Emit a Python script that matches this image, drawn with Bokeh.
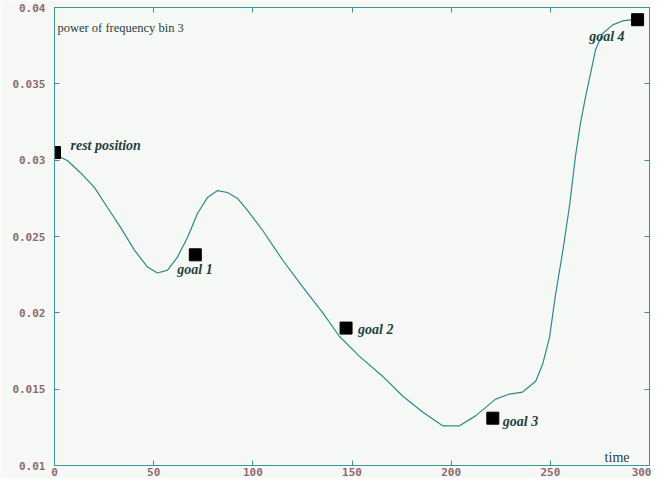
from bokeh.plotting import figure
from bokeh.models import Range1d, LinearAxis, FixedTicker, Label
from bokeh.embed import file_html
from bokeh.resources import INLINE

# ---- data -----------------------------------------------------------
curve_t = [0, 6.6, 13.1, 20.2, 26.7, 33.3, 40.3, 46.9, 51.9, 57.0, 62.0, 67.1,
           72.1, 77.1, 82.2, 87.2, 92.3, 97.3, 104.9, 115.0, 125.1, 135.2,
           143.7, 153.8, 165.4, 175.5, 185.6, 195.7, 204.2, 212.3, 222.4,
           229.4, 236.0, 242.6, 246.1, 249.6, 252.6, 256.2, 259.7, 262.7,
           265.2, 267.8, 270.3, 272.8, 276.3, 281.4, 286.4, 290.4, 294.0]
curve_v = [0.0304, 0.02996, 0.02918, 0.0282, 0.0269, 0.0256, 0.02411, 0.0230,
           0.02261, 0.0228, 0.02365, 0.02495, 0.02651, 0.02755, 0.02801,
           0.02788, 0.02749, 0.02671, 0.02541, 0.02346, 0.0217, 0.02001,
           0.01845, 0.01715, 0.01585, 0.01455, 0.01351, 0.0126, 0.0126,
           0.01325, 0.01435, 0.01468, 0.01481, 0.01552, 0.01663, 0.01839,
           0.02118, 0.02398, 0.02703, 0.03028, 0.03243, 0.03418, 0.03568,
           0.03724, 0.03828, 0.03886, 0.03912, 0.03919, 0.03922]

goal_names = ["rest position", "goal 1", "goal 2", "goal 3", "goal 4"]
goal_t = [0, 71, 147, 221, 294]
goal_v = [0.0305, 0.0238, 0.0190, 0.0131, 0.0392]

x_ticks = [0, 50, 100, 150, 200, 250, 300]
y_ticks = [0.01, 0.015, 0.02, 0.025, 0.03, 0.035, 0.04]
y_tick_labels = ["0.01", "0.015", "0.02", "0.025", "0.03", "0.035", "0.04"]

title_text = "power of frequency bin 3"
x_label_text = "time"

# ---- styling --------------------------------------------------------
BG = "#f6f8f6"
AXIS = "#3a9696"
TICKLAB = "#8e6a70"
CURVE = "#2c8a8a"
TEXT = "#1f3f3f"

p = figure(width=651, height=478, output_backend="svg", toolbar_location=None,
           x_range=Range1d(0, 300), y_range=Range1d(0.01, 0.04),
           min_border_left=54, min_border_right=2, min_border_top=7,
           min_border_bottom=12)
p.background_fill_color = BG
p.border_fill_color = BG
p.outline_line_color = AXIS
p.xgrid.visible = False
p.ygrid.visible = False

def style_axis(ax, show_labels):
    ax.axis_line_color = AXIS
    ax.axis_line_width = 1
    ax.major_tick_line_color = AXIS
    ax.major_tick_in = 5
    ax.major_tick_out = 0
    ax.minor_tick_line_color = None
    ax.major_label_text_font = "DejaVu Sans Mono"
    ax.major_label_text_font_style = "bold"
    if show_labels:
        ax.major_label_text_font_size = "11px"
        ax.major_label_text_color = TICKLAB
    else:
        ax.major_label_text_font_size = "1px"
        ax.major_label_text_color = None
        ax.major_label_standoff = 0

p.xaxis.ticker = FixedTicker(ticks=x_ticks)
p.yaxis.ticker = FixedTicker(ticks=y_ticks)
p.yaxis.major_label_overrides = dict(zip(y_ticks, y_tick_labels))
style_axis(p.xaxis[0], True)
style_axis(p.yaxis[0], True)
p.xaxis.major_label_standoff = 2
p.yaxis.major_label_standoff = 9

top = LinearAxis(ticker=FixedTicker(ticks=x_ticks))
right = LinearAxis(ticker=FixedTicker(ticks=y_ticks))
style_axis(top, False)
style_axis(right, False)
p.add_layout(top, "above")
p.add_layout(right, "right")

p.line(curve_t, curve_v, line_color=CURVE, line_width=1.2)
p.scatter(goal_t, goal_v, marker="square", size=12, fill_color="black",
          line_color="black")

offsets = [(16, 7, "left"), (-18, -15, "left"), (12, -1, "left"),
           (10, -3, "left"), (-13, -17, "right")]
for name, t, v, (dx, dy, al) in zip(goal_names, goal_t, goal_v, offsets):
    p.add_layout(Label(x=t, y=v, text=name, x_offset=dx, y_offset=dy,
                       text_align=al, text_baseline="middle",
                       text_font="Liberation Serif", text_font_style="bold italic",
                       text_font_size="14px", text_color=TEXT))

p.add_layout(Label(x=0, y=0.04, text=title_text, x_offset=3, y_offset=-20,
                   text_baseline="middle", text_font="Liberation Serif",
                   text_font_size="12.5px", text_color=TEXT))
p.add_layout(Label(x=300, y=0.01, text=x_label_text, x_offset=-20, y_offset=8,
                   text_align="right", text_baseline="middle",
                   text_font="Liberation Serif", text_font_size="14px",
                   text_color=TEXT))

open("out.html", "w").write(file_html(p, INLINE))
